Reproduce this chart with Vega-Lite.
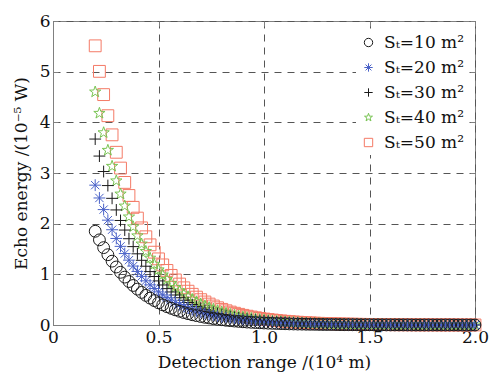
{
  "$schema": "https://vega.github.io/schema/vega-lite/v6.json",
  "width": 422,
  "height": 304,
  "autosize": {"type": "none"},
  "padding": {"left": 53, "top": 21, "right": 14, "bottom": 52},
  "config": {
    "view": {"stroke": "#808080", "strokeWidth": 1},
    "font": "DejaVu Serif",
    "axis": {
      "labelFont": "DejaVu Serif", "titleFont": "DejaVu Serif",
      "labelFontSize": 17, "titleFontSize": 17, "titleFontWeight": "normal",
      "labelColor": "#111", "titleColor": "#111",
      "domainColor": "#808080", "tickColor": "#808080", "tickSize": -5,
      "gridColor": "#555", "gridDash": [7, 6], "gridWidth": 1, "gridOpacity": 1
    },
    "legend": {"labelFont": "DejaVu Serif", "labelFontSize": 17, "labelColor": "#111"}
  },
  "data": {"values": [
    {"x":0.20,"a":1.85,"b":2.76,"c":3.67,"d":4.60,"e":5.51},
    {"x":0.22,"a":1.681,"b":2.507,"c":3.334,"d":4.179,"e":5.006},
    {"x":0.24,"a":1.527,"b":2.278,"c":3.029,"d":3.796,"e":4.547},
    {"x":0.26,"a":1.387,"b":2.069,"c":2.752,"d":3.449,"e":4.131},
    {"x":0.28,"a":1.260,"b":1.880,"c":2.500,"d":3.133,"e":3.753},
    {"x":0.30,"a":1.145,"b":1.708,"c":2.271,"d":2.846,"e":3.409},
    {"x":0.32,"a":1.040,"b":1.552,"c":2.063,"d":2.586,"e":3.097},
    {"x":0.34,"a":0.945,"b":1.410,"c":1.874,"d":2.349,"e":2.814},
    {"x":0.36,"a":0.858,"b":1.280,"c":1.703,"d":2.134,"e":2.556},
    {"x":0.38,"a":0.780,"b":1.163,"c":1.547,"d":1.939,"e":2.322},
    {"x":0.40,"a":0.708,"b":1.057,"c":1.405,"d":1.761,"e":2.110},
    {"x":0.42,"a":0.644,"b":0.960,"c":1.277,"d":1.600,"e":1.917},
    {"x":0.44,"a":0.585,"b":0.872,"c":1.160,"d":1.454,"e":1.741},
    {"x":0.46,"a":0.531,"b":0.792,"c":1.054,"d":1.321,"e":1.582},
    {"x":0.48,"a":0.482,"b":0.720,"c":0.957,"d":1.200,"e":1.437},
    {"x":0.50,"a":0.438,"b":0.654,"c":0.870,"d":1.090,"e":1.305},
    {"x":0.52,"a":0.398,"b":0.594,"c":0.790,"d":0.990,"e":1.186},
    {"x":0.54,"a":0.362,"b":0.540,"c":0.718,"d":0.899,"e":1.077},
    {"x":0.56,"a":0.329,"b":0.490,"c":0.652,"d":0.817,"e":0.979},
    {"x":0.58,"a":0.299,"b":0.445,"c":0.592,"d":0.742,"e":0.889},
    {"x":0.60,"a":0.271,"b":0.405,"c":0.538,"d":0.674,"e":0.808},
    {"x":0.62,"a":0.246,"b":0.368,"c":0.489,"d":0.613,"e":0.734},
    {"x":0.64,"a":0.224,"b":0.334,"c":0.444,"d":0.557,"e":0.667},
    {"x":0.66,"a":0.203,"b":0.303,"c":0.403,"d":0.506,"e":0.606},
    {"x":0.68,"a":0.185,"b":0.276,"c":0.366,"d":0.459,"e":0.550},
    {"x":0.70,"a":0.168,"b":0.250,"c":0.333,"d":0.417,"e":0.500},
    {"x":0.72,"a":0.152,"b":0.227,"c":0.302,"d":0.379,"e":0.454},
    {"x":0.74,"a":0.139,"b":0.207,"c":0.275,"d":0.344,"e":0.413},
    {"x":0.76,"a":0.126,"b":0.188,"c":0.250,"d":0.313,"e":0.375},
    {"x":0.78,"a":0.114,"b":0.171,"c":0.227,"d":0.284,"e":0.340},
    {"x":0.80,"a":0.104,"b":0.155,"c":0.206,"d":0.258,"e":0.309},
    {"x":0.82,"a":0.094,"b":0.141,"c":0.187,"d":0.235,"e":0.281},
    {"x":0.84,"a":0.086,"b":0.128,"c":0.170,"d":0.213,"e":0.255},
    {"x":0.86,"a":0.078,"b":0.116,"c":0.154,"d":0.194,"e":0.232},
    {"x":0.88,"a":0.071,"b":0.106,"c":0.140,"d":0.176,"e":0.211},
    {"x":0.90,"a":0.064,"b":0.096,"c":0.127,"d":0.160,"e":0.191},
    {"x":0.92,"a":0.058,"b":0.087,"c":0.116,"d":0.145,"e":0.174},
    {"x":0.94,"a":0.053,"b":0.079,"c":0.105,"d":0.132,"e":0.158},
    {"x":0.96,"a":0.048,"b":0.072,"c":0.096,"d":0.120,"e":0.143},
    {"x":0.98,"a":0.044,"b":0.065,"c":0.087,"d":0.109,"e":0.130},
    {"x":1.00,"a":0.040,"b":0.059,"c":0.079,"d":0.099,"e":0.118},
    {"x":1.02,"a":0.036,"b":0.054,"c":0.072,"d":0.090,"e":0.108},
    {"x":1.04,"a":0.033,"b":0.049,"c":0.065,"d":0.082,"e":0.098},
    {"x":1.06,"a":0.030,"b":0.044,"c":0.059,"d":0.074,"e":0.089},
    {"x":1.08,"a":0.027,"b":0.040,"c":0.054,"d":0.067,"e":0.081},
    {"x":1.10,"a":0.025,"b":0.037,"c":0.049,"d":0.061,"e":0.073},
    {"x":1.12,"a":0.022,"b":0.033,"c":0.044,"d":0.056,"e":0.067},
    {"x":1.14,"a":0.020,"b":0.030,"c":0.040,"d":0.051,"e":0.060},
    {"x":1.16,"a":0.018,"b":0.028,"c":0.037,"d":0.046,"e":0.055},
    {"x":1.18,"a":0.017,"b":0.025,"c":0.033,"d":0.042,"e":0.050},
    {"x":1.20,"a":0.015,"b":0.023,"c":0.030,"d":0.038,"e":0.045},
    {"x":1.22,"a":0.014,"b":0.021,"c":0.027,"d":0.034,"e":0.041},
    {"x":1.24,"a":0.013,"b":0.019,"c":0.025,"d":0.031,"e":0.037},
    {"x":1.26,"a":0.011,"b":0.017,"c":0.023,"d":0.028,"e":0.034},
    {"x":1.28,"a":0.010,"b":0.015,"c":0.021,"d":0.026,"e":0.031},
    {"x":1.30,"a":0.009,"b":0.014,"c":0.019,"d":0.023,"e":0.028},
    {"x":1.32,"a":0.009,"b":0.013,"c":0.017,"d":0.021,"e":0.026},
    {"x":1.34,"a":0.008,"b":0.012,"c":0.015,"d":0.019,"e":0.023},
    {"x":1.36,"a":0.007,"b":0.011,"c":0.014,"d":0.018,"e":0.021},
    {"x":1.38,"a":0.006,"b":0.010,"c":0.013,"d":0.016,"e":0.019},
    {"x":1.40,"a":0.006,"b":0.009,"c":0.012,"d":0.014,"e":0.017},
    {"x":1.42,"a":0.005,"b":0.008,"c":0.010,"d":0.013,"e":0.016},
    {"x":1.44,"a":0.005,"b":0.007,"c":0.010,"d":0.012,"e":0.014},
    {"x":1.46,"a":0.004,"b":0.007,"c":0.009,"d":0.011,"e":0.013},
    {"x":1.48,"a":0.004,"b":0.006,"c":0.008,"d":0.010,"e":0.012},
    {"x":1.50,"a":0.004,"b":0.005,"c":0.007,"d":0.009,"e":0.011},
    {"x":1.52,"a":0.003,"b":0.005,"c":0.006,"d":0.008,"e":0.010},
    {"x":1.54,"a":0.003,"b":0.004,"c":0.006,"d":0.007,"e":0.009},
    {"x":1.56,"a":0.003,"b":0.004,"c":0.005,"d":0.007,"e":0.008},
    {"x":1.58,"a":0.002,"b":0.004,"c":0.005,"d":0.006,"e":0.007},
    {"x":1.60,"a":0.002,"b":0.003,"c":0.004,"d":0.006,"e":0.007},
    {"x":1.62,"a":0.002,"b":0.003,"c":0.004,"d":0.005,"e":0.006},
    {"x":1.64,"a":0.002,"b":0.003,"c":0.004,"d":0.005,"e":0.006},
    {"x":1.66,"a":0.002,"b":0.003,"c":0.003,"d":0.004,"e":0.005},
    {"x":1.68,"a":0.002,"b":0.002,"c":0.003,"d":0.004,"e":0.005},
    {"x":1.70,"a":0.001,"b":0.002,"c":0.003,"d":0.003,"e":0.004},
    {"x":1.72,"a":0.001,"b":0.002,"c":0.002,"d":0.003,"e":0.004},
    {"x":1.74,"a":0.001,"b":0.002,"c":0.002,"d":0.003,"e":0.003},
    {"x":1.76,"a":0.001,"b":0.002,"c":0.002,"d":0.003,"e":0.003},
    {"x":1.78,"a":0.001,"b":0.001,"c":0.002,"d":0.002,"e":0.003},
    {"x":1.80,"a":0.001,"b":0.001,"c":0.002,"d":0.002,"e":0.003},
    {"x":1.82,"a":0.001,"b":0.001,"c":0.001,"d":0.002,"e":0.002},
    {"x":1.84,"a":0.001,"b":0.001,"c":0.001,"d":0.002,"e":0.002},
    {"x":1.86,"a":0.001,"b":0.001,"c":0.001,"d":0.002,"e":0.002},
    {"x":1.88,"a":0.001,"b":0.001,"c":0.001,"d":0.001,"e":0.002},
    {"x":1.90,"a":0.001,"b":0.001,"c":0.001,"d":0.001,"e":0.002},
    {"x":1.92,"a":0.000,"b":0.001,"c":0.001,"d":0.001,"e":0.001},
    {"x":1.94,"a":0.000,"b":0.001,"c":0.001,"d":0.001,"e":0.001},
    {"x":1.96,"a":0.000,"b":0.000,"c":0.001,"d":0.001,"e":0.001},
    {"x":1.98,"a":0.000,"b":0.000,"c":0.001,"d":0.001,"e":0.001},
    {"x":2.00,"a":0.000,"b":0.000,"c":0.000,"d":0.001,"e":0.001}
  ]},
  "transform": [{"fold": ["a", "b", "c", "d", "e"], "as": ["s", "v"]}],
  "resolve": {"axis": {"x": "independent", "y": "independent"}},
  "layer": [
    {
      "mark": {"type": "point", "filled": false, "strokeWidth": 1, "opacity": 1, "size": 140},
      "encoding": {
        "x": {"field": "x", "type": "quantitative", "scale": {"domain": [0, 2], "nice": false},
          "axis": {"orient": "bottom", "values": [0, 0.5, 1, 1.5, 2], "labelExpr": "datum.value == 0 ? '0' : format(datum.value, '.1f')",
            "title": "Detection range /(10⁴ m)", "labelPadding": 9, "titlePadding": 9, "grid": true, "labelFlush": false}},
        "y": {"field": "v", "type": "quantitative", "scale": {"domain": [0, 6], "nice": false},
          "axis": {"orient": "left", "values": [0, 1, 2, 3, 4, 5, 6], "format": "d", "title": "Echo energy /(10⁻⁵ W)",
            "labelPadding": 8, "titlePadding": 9, "grid": true}},
        "shape": {"field": "s", "type": "nominal",
          "scale": {"domain": ["a", "b", "c", "d", "e"],
            "range": ["circle", "M-1,0L1,0M0,-1L0,1M-0.7,-0.7L0.7,0.7M-0.7,0.7L0.7,-0.7", "M-1,0L1,0M0,-1L0,1",
              "M0,-1L0.235,-0.324L0.951,-0.309L0.38,0.124L0.588,0.809L0,0.4L-0.588,0.809L-0.38,0.124L-0.951,-0.309L-0.235,-0.324Z", "square"]},
          "legend": {"orient": "none", "legendX": 303, "legendY": 9, "title": null, "fillColor": "white", "padding": 4,
            "labelExpr": "datum.value == 'a' ? 'Sₜ=10 m²' : datum.value == 'b' ? 'Sₜ=20 m²' : datum.value == 'c' ? 'Sₜ=30 m²' : datum.value == 'd' ? 'Sₜ=40 m²' : 'Sₜ=50 m²'",
            "symbolSize": 70, "symbolStrokeWidth": 1, "rowPadding": 7, "labelOffset": 7}},
        "color": {"field": "s", "type": "nominal",
          "scale": {"domain": ["a", "b", "c", "d", "e"], "range": ["#1a1a1a", "#4a62c8", "#1a1a1a", "#78c452", "#f47a66"]}},
        "order": {"field": "s", "sort": "descending"}
      }
    },
    {
      "mark": {"type": "point", "opacity": 0},
      "encoding": {
        "x": {"field": "x", "type": "quantitative", "scale": {"domain": [0, 2], "nice": false},
          "axis": {"orient": "top", "values": [0, 0.5, 1, 1.5, 2], "labels": false, "title": null, "grid": false, "domain": false}},
        "y": {"field": "v", "type": "quantitative", "scale": {"domain": [0, 6], "nice": false},
          "axis": {"orient": "right", "values": [0, 1, 2, 3, 4, 5, 6], "labels": false, "title": null, "grid": false, "domain": false}}
      }
    }
  ]
}
